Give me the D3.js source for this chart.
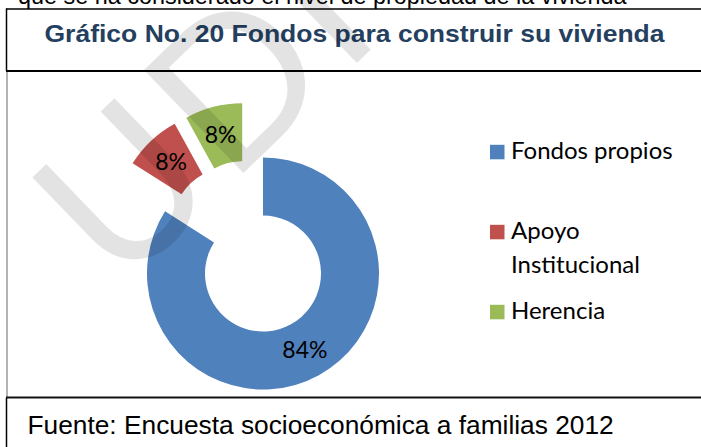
<!DOCTYPE html>
<html>
<head>
<meta charset="utf-8">
<script src="https://cdn.jsdelivr.net/npm/d3@7"></script>
<style>
  body { margin: 0; background: #fff; }
  svg { display: block; }
</style>
</head>
<body>
<svg id="chart"></svg>
<script>
// Data
const categories = ["Fondos propios", "Apoyo Institucional", "Herencia"];
const values = [84, 8, 8];
const colors = ["#4F81BD", "#C0504D", "#9BBB59"];
const title = "Gráfico No. 20 Fondos para construir su vivienda";
const source = "Fuente: Encuesta socioeconómica a familias 2012";
const textAbove = "que se ha considerado el nivel de propiedad de la vivienda";

const Width = 701;
const Height = 447;

const svg = d3.select('#chart')
.attr('width', Width)
.attr('height', Height)
;

// text of the page above the box (only its bottom shows)
svg.append('text')
.attr('x', 18)
.attr('y', 3.5)
.attr('font-family', 'Liberation Sans, Arial, sans-serif')
.attr('font-size', 23.4)
.text(textAbove)
;

// Table borders
const box = svg.append('g').attr('fill', 'none');
box.append('line').attr('x1', 6).attr('x2', Width).attr('y1', 9).attr('y2', 9)
.attr('stroke', '#000').attr('stroke-width', 1.5);
box.append('line').attr('x1', 6.5).attr('x2', 6.5).attr('y1', 8.5).attr('y2', 71)
.attr('stroke', '#000').attr('stroke-width', 1.5);
box.append('line').attr('x1', 6).attr('x2', Width).attr('y1', 71).attr('y2', 71)
.attr('stroke', '#000').attr('stroke-width', 2);
box.append('line').attr('x1', 7).attr('x2', 7).attr('y1', 72).attr('y2', 397)
.attr('stroke', '#999').attr('stroke-width', 1.5);
box.append('line').attr('x1', 6).attr('x2', Width).attr('y1', 397.5).attr('y2', 397.5)
.attr('stroke', '#111').attr('stroke-width', 2);
box.append('line').attr('x1', 6.5).attr('x2', 6.5).attr('y1', 398).attr('y2', Height)
.attr('stroke', '#000').attr('stroke-width', 1.5);

// Title
svg.append('text')
.attr('x', 44.5)
.attr('y', 42)
.attr('font-family', 'Liberation Sans, Arial, sans-serif')
.attr('font-weight', 'bold')
.attr('font-size', 24)
.attr('fill', '#243F60')
.attr('textLength', 620)
.attr('lengthAdjust', 'spacingAndGlyphs')
.text(title)
;

// Source
svg.append('text')
.attr('x', 27.5)
.attr('y', 434)
.attr('font-family', 'Liberation Sans, Arial, sans-serif')
.attr('font-size', 26.3)
.text(source)
;

// Doughnut
const center = { x: 263, y: 273.5 };
const rInner = 58;
const rOuter = 116;
// pulled out slices (distance, direction in degrees from top)
const explodeDist = [0, 58, 58];
const explodeDir = [0, 326, 339];

const pie = d3.pie().sort(null).value(d => d).startAngle(0);
const arc = d3.arc().innerRadius(rInner).outerRadius(rOuter);
const arcs = pie(values);

const chart = svg.append('g')
.attr('transform', `translate(${center.x}, ${center.y})`)
;

const slices = chart.selectAll('.slice')
.data(arcs)
.enter()
.append('g')
.classed('slice', true)
.attr('transform', (d, i) => {
    const a = explodeDir[i] * Math.PI / 180;
    return `translate(${explodeDist[i] * Math.sin(a)}, ${-explodeDist[i] * Math.cos(a)})`;
})
;

slices.append('path')
.attr('d', arc)
.attr('fill', (d, i) => colors[i])
;

slices.append('text')
.attr('x', d => arc.centroid(d)[0])
.attr('y', d => arc.centroid(d)[1])
.attr('dy', '0.36em')
.attr('text-anchor', 'middle')
.attr('font-family', 'Lato, Open Sans, sans-serif')
.attr('font-size', 23)
.attr('fill', '#000')
.text(d => d3.format('.0%')(d.data / d3.sum(values)))
;

// Legend
const legendY = d3.scalePoint().domain(categories).range([159.3, 319.3]);
const legend = svg.append('g');

const items = legend.selectAll('.item')
.data(categories)
.enter()
.append('g')
.classed('item', true)
.attr('transform', d => `translate(490, ${legendY(d)})`)
;

items.append('rect')
.attr('x', 0)
.attr('y', -14.5)
.attr('width', 14.5)
.attr('height', 14.5)
.attr('fill', (d, i) => colors[i])
;

items.append('text')
.attr('x', 21)
.attr('font-family', 'Lato, Open Sans, sans-serif')
.attr('font-size', 24)
.attr('fill', '#000')
.each(function (d) {
    // word wrap to the legend width
    const t = d3.select(this);
    const words = d.split(' ');
    let line = [];
    let tspan = t.append('tspan').attr('x', 21).attr('dy', 0);
    words.forEach(w => {
        line.push(w);
        tspan.text(line.join(' '));
        if (tspan.node().getComputedTextLength() > 185 && line.length > 1) {
            line.pop();
            tspan.text(line.join(' '));
            line = [w];
            tspan = t.append('tspan').attr('x', 21).attr('dy', 33.3).text(w);
        }
    });
})
;

// Watermark
svg.append('text')
.attr('transform', 'translate(120, 292) rotate(-44)')
.attr('font-family', 'Lato, Open Sans, sans-serif')
.attr('font-size', 200)
.attr('letter-spacing', 6)
.attr('fill', '#000')
.attr('fill-opacity', 0.11)
.text('UDI')
;
</script>
</body>
</html>
